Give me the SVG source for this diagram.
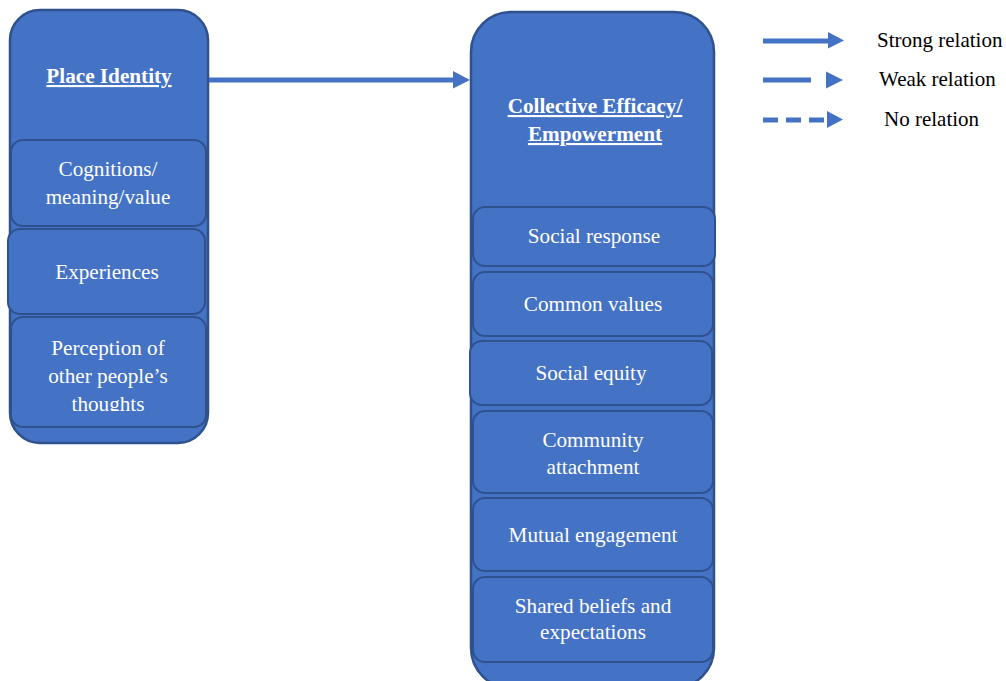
<svg xmlns="http://www.w3.org/2000/svg" width="1006" height="681" viewBox="0 0 1006 681">
  <defs>
    <style>
      .outer { fill: #4472C4; stroke: #2F528F; stroke-width: 2.5; }
      .inner { fill: #4472C4; stroke: #2F528F; stroke-width: 2; }
      .lbl { font-family: "Liberation Serif", "Times New Roman", serif; font-size: 21.2px; fill: #FFFFFF; text-anchor: middle; }
      .title { font-weight: bold; text-decoration: underline; }
      .legend-text { font-family: "Liberation Serif", "Times New Roman", serif; font-size: 21px; fill: #000000; }
      .conn { stroke: #4472C4; stroke-width: 5; fill: none; }
      .head { fill: #4472C4; }
    </style>
    <clipPath id="clip-perception">
      <rect x="11" y="317" width="196" height="94"/>
    </clipPath>
  </defs>

  <rect width="1006" height="681" fill="#FFFFFF"/>

  <!-- Place Identity column -->
  <g id="place-identity">
    <rect class="outer" x="10" y="10" width="198" height="433" rx="30" ry="30"/>
    <text class="lbl title" x="109" y="83">Place Identity</text>
  </g>
  <g id="cognitions">
    <rect class="inner" x="11" y="140" width="195" height="86" rx="12" ry="12"/>
    <text class="lbl" x="108" y="176">Cognitions/</text>
    <text class="lbl" x="108" y="204">meaning/value</text>
  </g>
  <g id="experiences">
    <rect class="inner" x="8" y="229" width="197" height="85" rx="12" ry="12"/>
    <text class="lbl" x="107" y="279">Experiences</text>
  </g>
  <g id="perception">
    <rect class="inner" x="11" y="317" width="195" height="110" rx="12" ry="12"/>
    <g clip-path="url(#clip-perception)">
      <text class="lbl" x="108" y="355">Perception of</text>
      <text class="lbl" x="108" y="383">other people’s</text>
      <text class="lbl" x="108" y="411">thoughts</text>
    </g>
  </g>

  <!-- Collective Efficacy column -->
  <g id="collective-efficacy">
    <rect class="outer" x="471" y="12" width="243" height="676" rx="40" ry="40"/>
    <text class="lbl title" x="595" y="113">Collective Efficacy/</text>
    <text class="lbl title" x="595" y="141">Empowerment</text>
  </g>
  <g id="social-response">
    <rect class="inner" x="473" y="207" width="242" height="59" rx="12" ry="12"/>
    <text class="lbl" x="594" y="243">Social response</text>
  </g>
  <g id="common-values">
    <rect class="inner" x="473" y="272" width="240" height="64" rx="12" ry="12"/>
    <text class="lbl" x="593" y="311">Common values</text>
  </g>
  <g id="social-equity">
    <rect class="inner" x="470" y="341" width="242" height="64" rx="12" ry="12"/>
    <text class="lbl" x="591" y="380">Social equity</text>
  </g>
  <g id="community-attachment">
    <rect class="inner" x="473" y="411" width="240" height="82" rx="12" ry="12"/>
    <text class="lbl" x="593" y="447">Community</text>
    <text class="lbl" x="593" y="474">attachment</text>
  </g>
  <g id="mutual-engagement">
    <rect class="inner" x="473" y="498" width="240" height="73" rx="12" ry="12"/>
    <text class="lbl" x="593" y="542">Mutual engagement</text>
  </g>
  <g id="shared-beliefs">
    <rect class="inner" x="473" y="577" width="240" height="85" rx="12" ry="12"/>
    <text class="lbl" x="593" y="613">Shared beliefs and</text>
    <text class="lbl" x="593" y="639">expectations</text>
  </g>

  <!-- Connectors -->
  <g id="connectors">
    <line class="conn" x1="209" y1="80" x2="454" y2="80"/>
    <polygon class="head" points="453,71 470,80 453,88.5"/>
  </g>

  <!-- Legend -->
  <g id="legend">
    <line class="conn" x1="763" y1="41" x2="829" y2="41"/>
    <polygon class="head" points="828,32 844,40.5 828,48.5"/>
    <text class="legend-text" x="877" y="47">Strong relation</text>

    <line class="conn" x1="763" y1="80" x2="811" y2="80"/>
    <polygon class="head" points="826,71.5 843,80 826,88.5"/>
    <text class="legend-text" x="879" y="86">Weak relation</text>

    <line class="conn" x1="763" y1="120" x2="828" y2="120" stroke-dasharray="15,8"/>
    <polygon class="head" points="827,111 843,119.5 827,128"/>
    <text class="legend-text" x="884" y="126">No relation</text>
  </g>
</svg>
